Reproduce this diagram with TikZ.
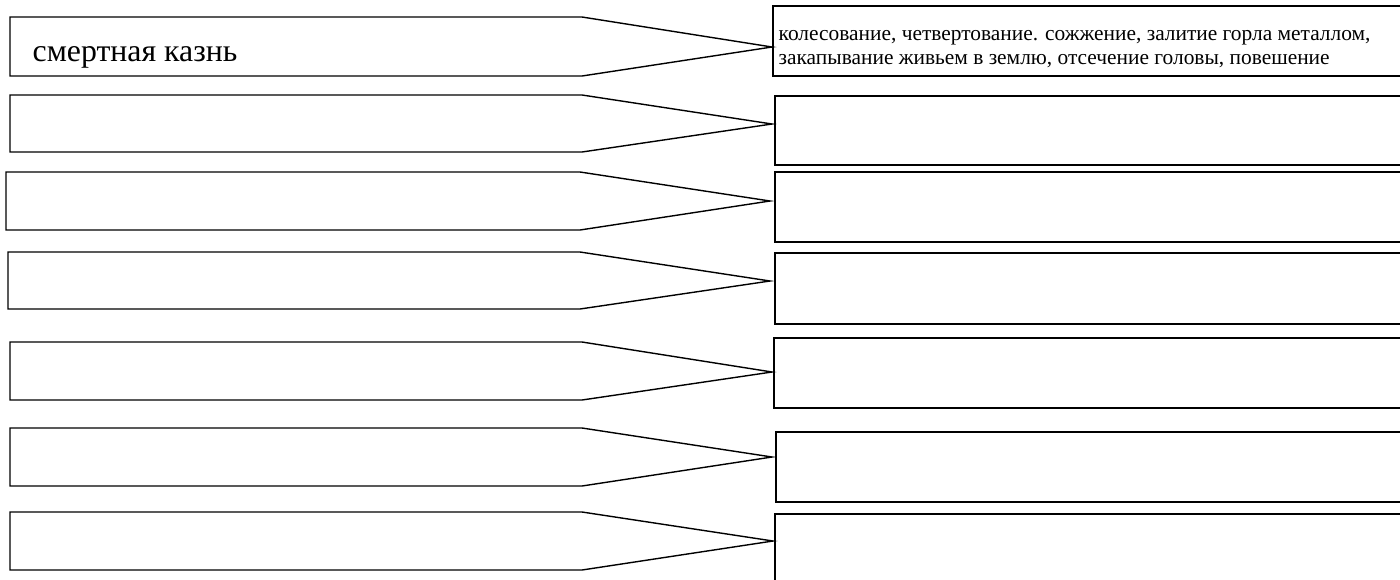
\documentclass[tikz,border=0pt]{standalone}
\usepackage{fontspec}
\setmainfont{Liberation Serif}
\begin{document}
\begin{tikzpicture}[x=1pt,y=-1pt,line width=1.4pt,line join=miter,
  pent/.style={draw,line width=1.4pt},
  resbox/.style={draw,line width=1.6pt,rectangle,inner sep=0pt,outer sep=0pt,anchor=north west},
  bigtxt/.style={anchor=base west,inner sep=0pt,font=\fontsize{31.8}{36}\selectfont},
  smalltxt/.style={anchor=base west,inner sep=0pt,font=\fontsize{21.4}{25}\selectfont}]
\useasboundingbox (0,0) rectangle (1400,579);
\clip (-1,-1) rectangle (1401,580);
\foreach \i/\L/\T/\B/\S/\X/\Y/\bl/\bt/\bb in {
  1/10/17/76/582/772/47/773/6/76,
  2/10/95/152/582/772/124/775/96/165,
  3/6/172/230/580/770/201/775/172/242,
  4/8/252/309/580/770/281/775/253/324,
  5/10/342/400/582/772/372/774/338/408,
  6/10/428/486/582/772/457/776/432/502,
  7/10/512/570/582/773/541/775/514/600}{
  \coordinate (tip\i) at (\X,\Y);
  \draw[pent] (\L,\T) -- (\S,\T) -- (tip\i) -- (\S,\B) -- (\L,\B) -- cycle;
  \pgfmathsetmacro{\bw}{1420-\bl}
  \pgfmathsetmacro{\bh}{\bb-\bt}
  \node[resbox,minimum width=\bw pt,minimum height=\bh pt] (box\i) at (\bl,\bt) {};
}
\node[bigtxt] (kazn) at (32,61) {смертная казнь};
\node[smalltxt] (t1) at (778,40) {колесование, четвертование. сожжение, залитие горла металлом,};
\node[smalltxt] (t2) at (778,64) {закапывание живьем в землю, отсечение головы, повешение};
\end{tikzpicture}
\end{document}
